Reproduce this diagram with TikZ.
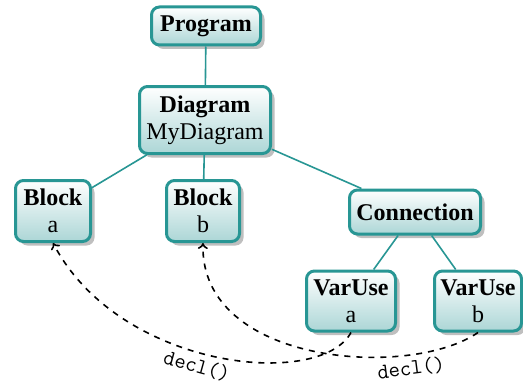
\documentclass[tikz,border=0pt]{standalone}
\usepackage{fontspec}
\setmainfont{Liberation Serif}
\usetikzlibrary{shadows, arrows.meta}

\definecolor{tealline}{RGB}{40,150,148}
\definecolor{tealfill}{RGB}{172,214,214}

\tikzset{
  astnode/.style={draw=tealline, line width=1.5pt, rounded corners=4pt,
    top color=white, bottom color=tealfill, align=center,
    font=\fontsize{12}{13.5}\selectfont, inner sep=2pt,
    drop shadow={shadow xshift=2pt, shadow yshift=-2pt, fill=black!25, opacity=1}},
  astedge/.style={tealline, line width=0.8pt},
  declref/.style={dashed, line width=0.8pt, -{To[length=3pt,width=5pt]}},
  decllabel/.style={font=\ttfamily\fontsize{11}{13}\selectfont, inner sep=2pt}
}

\begin{document}
\begin{tikzpicture}[x=0.5pt, y=-0.5pt]
\useasboundingbox (0,0) rectangle (523,385);

% Tree
\node[astnode, minimum width=54.5pt, minimum height=19pt] (prog) at (206,26) {\textbf{Program}};
\node[astnode, minimum width=65.5pt, minimum height=33.5pt] (dia) at (205,120) {\textbf{Diagram}\\MyDiagram};
\node[astnode, minimum width=37.5pt, minimum height=30.5pt] (blka) at (53,211) {\textbf{Block}\\a};
\node[astnode, minimum width=36.5pt, minimum height=30.5pt] (blkb) at (203,211) {\textbf{Block}\\b};
\node[astnode, minimum width=65.5pt, minimum height=22pt] (conn) at (415,212) {\textbf{Connection}};
\node[astnode, minimum width=44.5pt, minimum height=30pt] (usea) at (351,301) {\textbf{VarUse}\\a};
\node[astnode, minimum width=43.5pt, minimum height=30pt] (useb) at (478,301) {\textbf{VarUse}\\b};

% Edges
\draw[astedge] (prog) -- (dia);
\draw[astedge] (dia) -- (blka);
\draw[astedge] (dia) -- (blkb);
\draw[astedge] (dia) -- (conn);
\draw[astedge] (conn) -- (usea);
\draw[astedge] (conn) -- (useb);

% Declarations
\draw[declref] (usea.south) .. controls +(-31,57) and +(67,127) ..
  node[decllabel, pos=0.54, sloped, below] {decl()} (blka.south);
\draw[declref] (useb.south) .. controls +(-68,47) and +(-3,122) ..
  node[decllabel, pos=0.24, sloped, below] {decl()} (blkb.south);

\end{tikzpicture}
\end{document}
